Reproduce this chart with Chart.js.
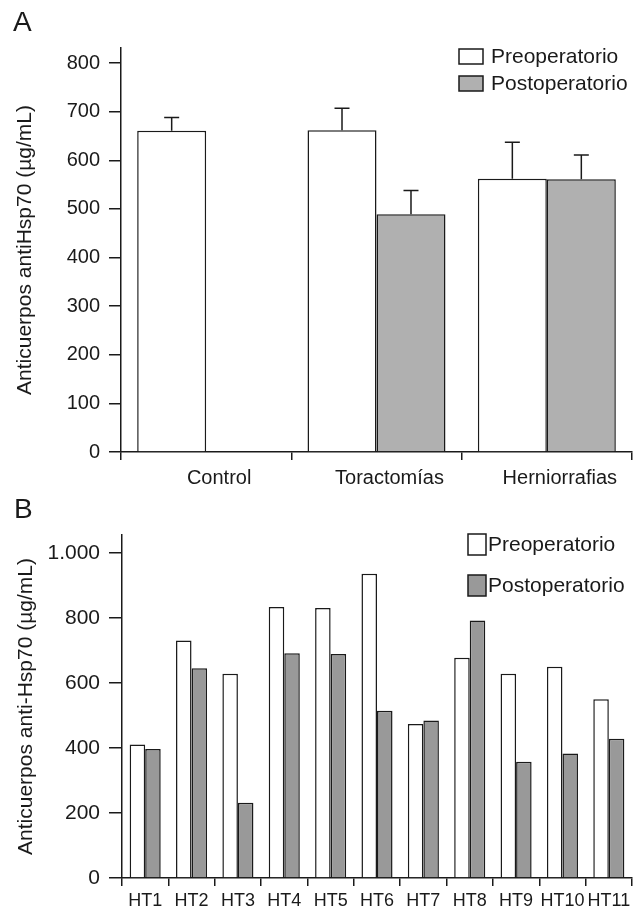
<!DOCTYPE html>
<html>
<head>
<meta charset="utf-8">
<script src="https://cdn.jsdelivr.net/npm/chart.js@4.4.1/dist/chart.umd.min.js"></script>
<style>
  html, body { margin: 0; padding: 0; background: #fff; }
  #wrap { position: relative; width: 641px; height: 913px; }
  #cA { position: absolute; left: 0; top: 0; }
  #cB { position: absolute; left: 0; top: 490px; }
</style>
</head>
<body>
<div id="wrap">
  <canvas id="cA" width="641" height="490"></canvas>
  <canvas id="cB" width="641" height="423"></canvas>
</div>
<script>
// ---------- Panel A data ----------
const groupsA = ['Control', 'Toractomías', 'Herniorrafias'];
const preA = [661, 662, 562];
const postA = [null, 489, 561];
const preErrA = [27, 45, 75];
const postErrA = [null, 49, 50];
const yTicksA = [0, 100, 200, 300, 400, 500, 600, 700, 800];

// ---------- Panel B data ----------
const patientsB = ['HT1','HT2','HT3','HT4','HT5','HT6','HT7','HT8','HT9','HT10','HT11'];
const preB = [411, 731, 629, 834, 831, 937, 474, 678, 629, 650, 550];
const postB = [397, 646, 232, 692, 690, 515, 485, 793, 358, 383, 429];
const yTicksB = [0, 200, 400, 600, 800, 1000];

const seriesLabels = ['Preoperatorio', 'Postoperatorio'];
const yTitleA = 'Anticuerpos antiHsp70 (µg/mL)';
const yTitleB = 'Anticuerpos anti-Hsp70 (µg/mL)';

const FONT = "'Liberation Sans', Arial, Helvetica, sans-serif";
const INK = '#1a1a1a';

function fmtThousands(v) {
  return String(v).replace(/\B(?=(\d{3})+(?!\d))/g, '.');
}

// Error bar plugin (uses the chart's scales)
const errorBars = {
  id: 'errorBars',
  afterDatasetsDraw(chart, args, opts) {
    if (!opts || !opts.errors) return;
    const ctx = chart.ctx;
    const yScale = chart.scales.y;
    ctx.save();
    ctx.strokeStyle = INK;
    ctx.lineWidth = 1.5;
    opts.errors.forEach((errs, di) => {
      const meta = chart.getDatasetMeta(di);
      const vals = chart.data.datasets[di].data;
      meta.data.forEach((el, i) => {
        const e = errs[i];
        const v = vals[i];
        if (e == null || v == null) return;
        const yTop = yScale.getPixelForValue(v + e);
        ctx.beginPath();
        ctx.moveTo(el.x, el.y);
        ctx.lineTo(el.x, yTop);
        ctx.moveTo(el.x - opts.cap, yTop);
        ctx.lineTo(el.x + opts.cap, yTop);
        ctx.stroke();
      });
    });
    ctx.restore();
  }
};

// Custom legend plugin
const boxLegend = {
  id: 'boxLegend',
  afterDraw(chart, args, opts) {
    if (!opts || !opts.items) return;
    const ctx = chart.ctx;
    ctx.save();
    opts.items.forEach((it, i) => {
      const ds = chart.data.datasets[i];
      ctx.fillStyle = ds.backgroundColor;
      ctx.fillRect(it.bx, it.by, opts.bw, opts.bh);
      ctx.strokeStyle = INK;
      ctx.lineWidth = 1.5;
      ctx.strokeRect(it.bx, it.by, opts.bw, opts.bh);
      ctx.fillStyle = INK;
      ctx.font = opts.font;
      ctx.textBaseline = 'middle';
      ctx.textAlign = 'left';
      ctx.fillText(ds.label, it.tx, it.by + opts.bh / 2 + 1);
    });
    ctx.restore();
  }
};

function setTicks(list) {
  return function (s) { s.ticks = list.map(v => ({ value: v })); };
}

// ---------- Chart A ----------
new Chart(document.getElementById('cA'), {
  type: 'bar',
  data: {
    labels: groupsA,
    datasets: [
      { label: seriesLabels[0], data: preA, backgroundColor: '#ffffff', borderColor: INK, borderWidth: 1.5 },
      { label: seriesLabels[1], data: postA, backgroundColor: '#b0b0b0', borderColor: INK, borderWidth: 1.5 }
    ]
  },
  plugins: [errorBars, boxLegend],
  options: {
    responsive: false,
    animation: false,
    categoryPercentage: 0.81,
    barPercentage: 1.0,
    layout: { padding: { left: 13, right: 9, top: 0, bottom: 0 } },
    plugins: {
      legend: { display: false },
      tooltip: { enabled: false },
      title: {
        display: true, text: 'A', align: 'start', color: INK,
        font: { family: FONT, size: 28, weight: 'normal' },
        padding: { top: 6, bottom: 8.4 }
      },
      errorBars: { errors: [preErrA, postErrA], cap: 7.5 },
      boxLegend: {
        bw: 24, bh: 15, font: '21px ' + FONT,
        items: [ { bx: 459, by: 49, tx: 491 }, { bx: 459, by: 76, tx: 491 } ]
      }
    },
    scales: {
      x: {
        afterFit(s) { s.height = 38; },
        border: { display: true, color: INK, width: 1.5 },
        grid: { display: true, drawOnChartArea: false, drawTicks: true, tickLength: 8, color: INK, lineWidth: 1.5, offset: true },
        ticks: { color: INK, font: { family: FONT, size: 20 }, padding: 6, labelOffset: 13, maxRotation: 0 }
      },
      y: {
        min: 0, max: 831,
        afterFit(s) { s.width = 108; },
        afterBuildTicks: setTicks(yTicksA),
        border: { display: true, color: INK, width: 1.5 },
        grid: { display: true, drawOnChartArea: false, drawTicks: true, tickLength: 12, color: INK, lineWidth: 1.5 },
        ticks: { color: INK, font: { family: FONT, size: 20 }, padding: 9 },
        title: {
          display: true, text: yTitleA, color: INK,
          font: { family: FONT, size: 21 }, padding: { top: 0, bottom: 0 }
        }
      }
    }
  }
});

// ---------- Chart B ----------
new Chart(document.getElementById('cB'), {
  type: 'bar',
  data: {
    labels: patientsB,
    datasets: [
      { label: seriesLabels[0], data: preB, backgroundColor: '#ffffff', borderColor: INK, borderWidth: 1.5 },
      { label: seriesLabels[1], data: postB, backgroundColor: '#999999', borderColor: INK, borderWidth: 1.5 }
    ]
  },
  plugins: [boxLegend],
  options: {
    responsive: false,
    animation: false,
    categoryPercentage: 0.67,
    barPercentage: 1.0,
    layout: { padding: { left: 14, right: 9, top: 0, bottom: 0 } },
    plugins: {
      legend: { display: false },
      tooltip: { enabled: false },
      title: {
        display: true, text: 'B', align: 'start', color: INK,
        font: { family: FONT, size: 28, weight: 'normal' },
        padding: { top: 3, bottom: 8.4 }
      },
      boxLegend: {
        bw: 18, bh: 21, font: '21px ' + FONT,
        items: [ { bx: 468, by: 44, tx: 488 }, { bx: 468, by: 85, tx: 488 } ]
      }
    },
    scales: {
      x: {
        afterFit(s) { s.height = 35; },
        border: { display: true, color: INK, width: 1.5 },
        grid: { display: true, drawOnChartArea: false, drawTicks: true, tickLength: 8, color: INK, lineWidth: 1.5, offset: true },
        ticks: { color: INK, font: { family: FONT, size: 18 }, padding: 4, maxRotation: 0, autoSkip: false }
      },
      y: {
        min: 0, max: 1056,
        afterFit(s) { s.width = 108; },
        afterBuildTicks: setTicks(yTicksB),
        border: { display: true, color: INK, width: 1.5 },
        grid: { display: true, drawOnChartArea: false, drawTicks: true, tickLength: 13, color: INK, lineWidth: 1.5 },
        ticks: { color: INK, font: { family: FONT, size: 21 }, padding: 9, callback: v => fmtThousands(v) },
        title: {
          display: true, text: yTitleB, color: INK,
          font: { family: FONT, size: 21 }, padding: { top: 0, bottom: 0 }
        }
      }
    }
  }
});
</script>
</body>
</html>
